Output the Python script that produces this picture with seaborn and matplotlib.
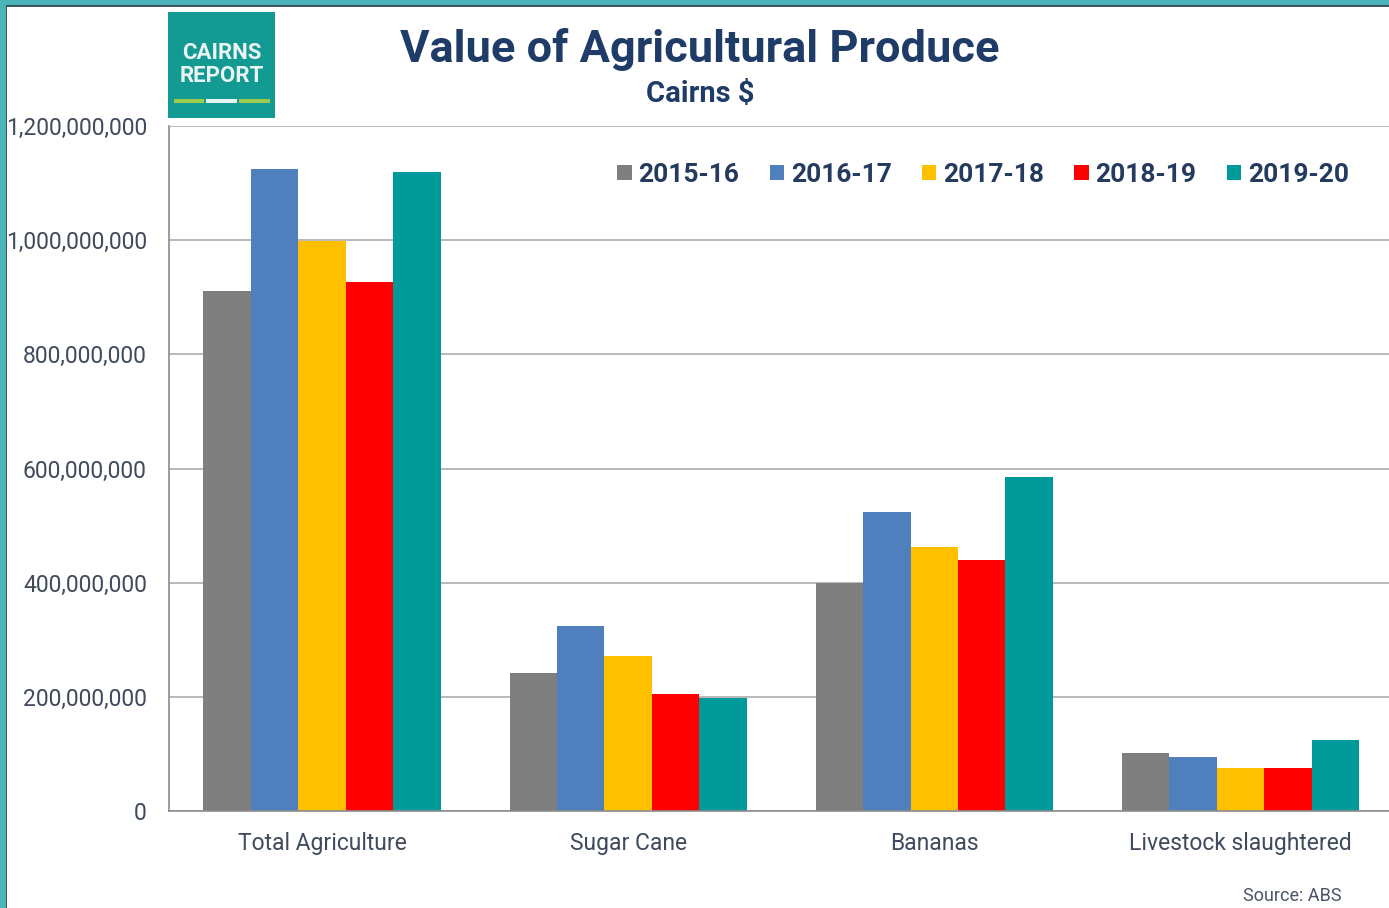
import matplotlib
matplotlib.use("Agg")
import matplotlib.pyplot as plt
from matplotlib.patches import Rectangle, Patch
from matplotlib.ticker import FuncFormatter, MultipleLocator, FixedLocator
import seaborn as sns
import pandas as pd

# ---- data ----
categories = ["Total Agriculture", "Sugar Cane", "Bananas", "Livestock slaughtered"]
years = ["2015-16", "2016-17", "2017-18", "2018-19", "2019-20"]
v_2015_16 = [911e6, 242e6, 399e6, 102e6]
v_2016_17 = [1125e6, 324e6, 524e6, 95e6]
v_2017_18 = [999e6, 272e6, 462e6, 75e6]
v_2018_19 = [927e6, 205e6, 440e6, 75e6]
v_2019_20 = [1119e6, 198e6, 585e6, 124e6]
series = [v_2015_16, v_2016_17, v_2017_18, v_2018_19, v_2019_20]
colors = ["#7F7F7F", "#4F7FBC", "#FFC000", "#FF0000", "#009A9A"]

rows = []
for yr, vals in zip(years, series):
    for cat, v in zip(categories, vals):
        rows.append({"Category": cat, "Year": yr, "Value": v})
df = pd.DataFrame(rows)

sns.set_theme(style="white")
plt.rcParams["font.family"] = ["Roboto", "DejaVu Sans"]

fig = plt.figure(figsize=(13.89, 9.08), dpi=100)
fig.patch.set_facecolor("white")
ax = fig.add_axes([0.1217, 0.1068, 0.8815, 0.7544])

sns.barplot(data=df, x="Category", y="Value", hue="Year", order=categories,
            hue_order=years, palette=colors, width=0.775, gap=0,
            saturation=1, ax=ax, legend=False, linewidth=0)

ax.set_xlim(-0.5, len(categories) - 0.5)
ax.set_ylim(0, 1.2e9)
ax.yaxis.set_major_locator(MultipleLocator(2e8))
ax.yaxis.set_major_formatter(FuncFormatter(lambda v, p: f"{int(v):,}"))
ax.grid(axis="y", color="#A6A6A6", linewidth=1.1)
ax.set_axisbelow(True)
ax.set_xlabel("")
ax.set_ylabel("")

for s in ["top", "right"]:
    ax.spines[s].set_visible(False)
for s in ["left", "bottom"]:
    ax.spines[s].set_color("#8C8C8C")
    ax.spines[s].set_linewidth(1.2)

label_color = "#3F4A5C"
ax.tick_params(axis="y", which="major", length=6, width=1, color="#8C8C8C",
               labelsize=16.5, labelcolor=label_color, pad=10)
ax.tick_params(axis="x", which="major", length=0, labelsize=16.5,
               labelcolor=label_color, pad=15)
ax.xaxis.set_minor_locator(FixedLocator([i - 0.5 for i in range(len(categories) + 1)]))
ax.tick_params(axis="x", which="minor", length=7, width=1, color="#8C8C8C",
               direction="inout")

# legend
handles = [Patch(facecolor=c, edgecolor="none", label=y) for c, y in zip(colors, years)]
leg = ax.legend(handles=handles, ncol=5, loc="upper right",
                bbox_to_anchor=(0.983, 0.981), frameon=False,
                prop={"weight": "bold", "size": 19}, handlelength=0.55,
                handleheight=0.55, handletextpad=0.25, columnspacing=1.15)
for t in leg.get_texts():
    t.set_color("#243A5E")

# titles
navy = "#1F3B68"
fig.text(0.504, 0.946, "Value of Agricultural Produce", ha="center", va="center",
         fontsize=32.5, fontweight="bold", color=navy)
fig.text(0.504, 0.896, "Cairns $", ha="center", va="center",
         fontsize=21, fontweight="bold", color=navy)
fig.text(0.966, 0.013, "Source: ABS", ha="right", va="center",
         fontsize=13, color="#4A5568")

# logo
W, H = 1389, 908
def fx(x): return x / W
def fy(y): return 1 - y / H
fig.patches.append(Rectangle((fx(168), fy(118)), fx(275) - fx(168), fy(12) - fy(118),
                             transform=fig.transFigure, facecolor="#139A93",
                             edgecolor="none", zorder=5))
fig.text(fx(221.5), fy(53), "CAIRNS", ha="center", va="center", fontsize=16,
         fontweight="bold", color="#EAF4F4", zorder=6)
fig.text(fx(221.5), fy(76), "REPORT", ha="center", va="center", fontsize=16,
         fontweight="bold", color="#EAF4F4", zorder=6)
for x0, x1, c in [(174, 204, "#9BCB4F"), (206, 237, "#E6F4F4"), (239, 270, "#9BCB4F")]:
    fig.patches.append(Rectangle((fx(x0), fy(103)), fx(x1) - fx(x0), fy(99) - fy(103),
                                 transform=fig.transFigure, facecolor=c,
                                 edgecolor="none", zorder=6))

# frame
teal = "#4BB4B8"
fig.patches.append(Rectangle((0, fy(5)), 1, fy(0) - fy(5), transform=fig.transFigure,
                             facecolor=teal, edgecolor="none", zorder=10))
fig.patches.append(Rectangle((0, 0), fx(6), 1, transform=fig.transFigure,
                             facecolor=teal, edgecolor="none", zorder=10))
fig.patches.append(Rectangle((fx(6), fy(6.5)), 1, fy(5) - fy(6.5), transform=fig.transFigure,
                             facecolor="#3A5660", edgecolor="none", zorder=10))
fig.patches.append(Rectangle((fx(6), 0), fx(1.3), fy(5), transform=fig.transFigure,
                             facecolor="#3A5660", edgecolor="none", zorder=10))

fig.savefig("out.png", dpi=100)
